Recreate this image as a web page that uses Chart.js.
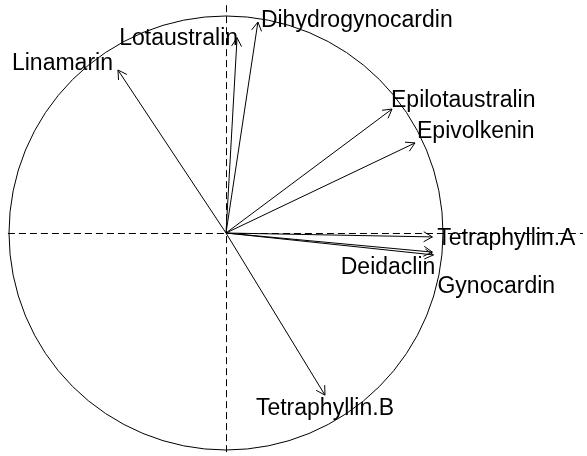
<!DOCTYPE html>
<html>
<head>
<meta charset="utf-8">
<script src="https://cdn.jsdelivr.net/npm/chart.js@4"></script>
<style>
  html, body { margin: 0; padding: 0; background: #fff; }
  #wrap { width: 587px; height: 456px; }
</style>
</head>
<body>
<div id="wrap"><canvas id="circle" width="587" height="456"></canvas></div>
<script>
// variables and their loadings on the two components
const variables = ['Linamarin', 'Lotaustralin', 'Dihydrogynocardin', 'Epilotaustralin', 'Epivolkenin',
                   'Tetraphyllin.A', 'Deidaclin', 'Gynocardin', 'Tetraphyllin.B'];
const dim1 = [-0.498, 0.051, 0.147, 0.765, 0.871, 0.951, 0.951, 0.956, 0.456];
const dim2 = [0.751, 0.900, 0.972, 0.571, 0.415, -0.018, -0.088, -0.101, -0.747];

// label placement relative to arrow tip (px) and alignment
const labelStyle = [
    { align: 'right', dx: -5, dy: 0 },
    { align: 'right', dx: 1, dy: 7 },
    { align: 'left', dx: 3, dy: 5 },
    { align: 'left', dx: -1, dy: -2 },
    { align: 'left', dx: 2, dy: -5 },
    { align: 'left', dx: 5, dy: 8 },
    { align: 'right', dx: 3, dy: 22 },
    { align: 'left', dx: 4, dy: 38 },
    { align: 'center', dx: 0, dy: 20 }
];

const circlePlugin = {
    id: 'circlePlugin',
    beforeDatasetsDraw(chart) {
        const { ctx, scales: { x, y } } = chart;
        const cx = x.getPixelForValue(0), cy = y.getPixelForValue(0);
        const rx = x.getPixelForValue(1) - cx, ry = cy - y.getPixelForValue(1);
        ctx.save();
        ctx.strokeStyle = '#000';
        ctx.lineWidth = 1;
        ctx.beginPath();
        ctx.ellipse(cx, cy, rx, ry, 0, 0, Math.PI * 2);
        ctx.stroke();
        // dashed zero lines, snapped to pixel centres so they stay crisp
        const hx = Math.round(cx) + 0.5, hy = Math.round(cy) + 0.5;
        ctx.setLineDash([7, 4]);
        ctx.beginPath();
        ctx.moveTo(x.getPixelForValue(-1.005), hy);
        ctx.lineTo(x.getPixelForValue(1.645), hy);
        ctx.moveTo(hx, y.getPixelForValue(1.05));
        ctx.lineTo(hx, chart.chartArea.bottom);
        ctx.stroke();
        ctx.restore();
    },
    afterDatasetsDraw(chart) {
        const { ctx, scales: { x, y } } = chart;
        const cx = x.getPixelForValue(0), cy = y.getPixelForValue(0);
        ctx.save();
        ctx.strokeStyle = '#000';
        ctx.lineWidth = 1;
        variables.forEach((name, i) => {
            const tx = x.getPixelForValue(dim1[i]), ty = y.getPixelForValue(dim2[i]);
            const ang = Math.atan2(ty - cy, tx - cx);
            const len = 10, spread = Math.PI / 6;
            ctx.beginPath();
            ctx.moveTo(tx - len * Math.cos(ang - spread), ty - len * Math.sin(ang - spread));
            ctx.lineTo(tx, ty);
            ctx.lineTo(tx - len * Math.cos(ang + spread), ty - len * Math.sin(ang + spread));
            ctx.stroke();
            // label
            const s = labelStyle[i];
            ctx.fillStyle = '#000';
            ctx.font = '23px "Liberation Sans", Arial, sans-serif';
            ctx.textAlign = s.align;
            ctx.textBaseline = 'alphabetic';
            ctx.fillText(name, tx + s.dx, ty + s.dy);
        });
        ctx.restore();
    }
};

new Chart(document.getElementById('circle'), {
    type: 'scatter',
    data: {
        datasets: variables.map((name, i) => ({
            label: name,
            data: [{ x: 0, y: 0 }, { x: dim1[i], y: dim2[i] }],
            showLine: true,
            borderColor: '#000',
            borderWidth: 1,
            pointRadius: 0
        }))
    },
    options: {
        responsive: false,
        animation: false,
        layout: { padding: 0 },
        scales: {
            x: { type: 'linear', min: -1.0415, max: 1.6636, display: false },
            y: { type: 'linear', min: -1.0276, max: 1.0737, display: false }
        },
        plugins: {
            legend: { display: false },
            tooltip: { enabled: false }
        }
    },
    plugins: [circlePlugin]
});
</script>
</body>
</html>
